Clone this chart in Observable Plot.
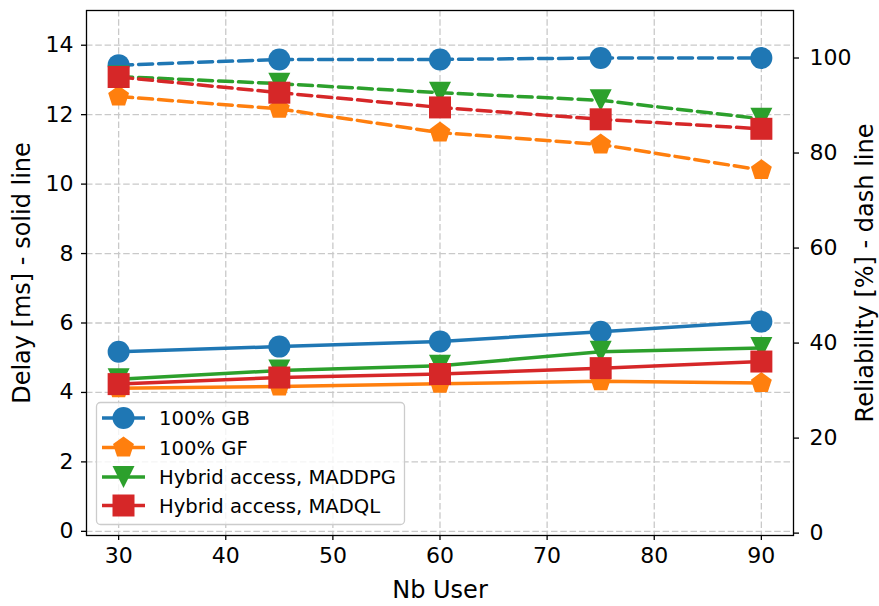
<!DOCTYPE html>
<html><head><meta charset="utf-8">
<script src="https://cdn.jsdelivr.net/npm/d3@7"></script>
<script src="https://cdn.jsdelivr.net/npm/@observablehq/plot@0.6"></script>
<style>
body{margin:0;background:#fff;}
#wrap{position:relative;width:879px;height:606px;background:#fff;}
#wrap > svg, #wrap > figure{position:absolute;left:0;top:0;margin:0;}
</style></head><body><div id="wrap"></div>
<script>
// ---- data ----
const users = [30, 45, 60, 75, 90];
const seriesNames = ["100% GB", "100% GF", "Hybrid access, MADDPG", "Hybrid access, MADQL"];
const delayGB = [5.17, 5.32, 5.47, 5.75, 6.04];
const delayGF = [4.12, 4.17, 4.25, 4.32, 4.27];
const delayMADDPG = [4.38, 4.63, 4.77, 5.17, 5.28];
const delayMADQL = [4.24, 4.43, 4.53, 4.70, 4.89];
const relGB = [98.5, 99.7, 99.7, 100, 100];
const relGF = [91.9, 89.3, 84.3, 81.8, 76.4];
const relMADDPG = [96.1, 94.6, 92.7, 91.1, 87.2];
const relMADQL = [96.0, 92.7, 89.6, 87.1, 85.1];
const xTicks = [30, 40, 50, 60, 70, 80, 90];
const delayTicks = [0, 2, 4, 6, 8, 10, 12, 14];
const relTicks = [0, 20, 40, 60, 80, 100];

const delays = [delayGB, delayGF, delayMADDPG, delayMADQL];
const rels = [relGB, relGF, relMADDPG, relMADQL];
const colors = ["#1f77b4", "#ff7f0e", "#2ca02c", "#d62728"];

// ---- marker shapes ----
const rad = s => Math.sqrt(s / Math.PI);
const symCircle = {draw(c, s){const r = rad(s); c.moveTo(r, 0); c.arc(0, 0, r, 0, 2 * Math.PI); c.closePath();}};
const symPent = {draw(c, s){const r = rad(s); for (let k = 0; k < 5; k++){const a = (-90 + 72 * k) * Math.PI / 180; const x = r * Math.cos(a), y = r * Math.sin(a); k ? c.lineTo(x, y) : c.moveTo(x, y);} c.closePath();}};
const symTriDown = {draw(c, s){const r = rad(s); c.moveTo(-r, -r); c.lineTo(r, -r); c.lineTo(0, r); c.closePath();}};
const symSquare = {draw(c, s){const r = rad(s); c.moveTo(-r, -r); c.lineTo(r, -r); c.lineTo(r, r); c.lineTo(-r, r); c.closePath();}};
const symbols = [symCircle, symPent, symTriDown, symSquare];
const R = 11;

const W = 879, H = 606, ML = 86, MR = 86, MT = 10, MB = 71;
const FONT = "DejaVu Sans";
const LABEL_FS = 24;
const gridStyle = {stroke: "#c9c9c9", strokeWidth: 1.3, strokeDasharray: "6.5,2.8", strokeOpacity: 1};

function seriesMarks(values, dashed){
  const m = [];
  values.forEach((vals, k) => {
    const d = users.map((u, i) => ({x: u, y: vals[i]}));
    m.push(Plot.line(d, {x: "x", y: "y", stroke: colors[k], strokeWidth: 3.5, strokeDasharray: dashed ? "14,6" : null}));
    m.push(Plot.dot(d, {x: "x", y: "y", fill: colors[k], stroke: "none", r: R, symbol: symbols[k]}));
  });
  return m;
}

const chartA = Plot.plot({
  width: W, height: H, marginLeft: ML, marginRight: MR, marginTop: MT, marginBottom: MB,
  style: {fontFamily: FONT, fontSize: "22px", background: "transparent", color: "#000", overflow: "visible"},
  x: {domain: [27, 93], axis: null},
  y: {domain: [-0.12, 15], axis: null},
  marks: [
    Plot.gridX(xTicks, gridStyle),
    Plot.gridY(delayTicks, gridStyle),
    ...seriesMarks(delays, false),
    Plot.frame({stroke: "#000", strokeWidth: 1.3}),
    Plot.axisX(xTicks, {tickSize: 5, tickPadding: 7, label: null, fontSize: 22, strokeWidth: 1.3}),
    Plot.axisY(delayTicks, {tickSize: 5, tickPadding: 8, label: null, fontSize: 22, strokeWidth: 1.3}),
    Plot.text(["Nb User"], {frameAnchor: "bottom", dy: 55, text: d => d, fontSize: LABEL_FS, fill: "#000", textAnchor: "middle", lineAnchor: "middle"}),
    Plot.text(["Delay [ms] - solid line"], {frameAnchor: "left", dx: -64, rotate: -90, text: d => d, fontSize: LABEL_FS, fill: "#000", textAnchor: "middle", lineAnchor: "middle"})
  ]
});

const chartB = Plot.plot({
  width: W, height: H, marginLeft: ML, marginRight: MR, marginTop: MT, marginBottom: MB,
  style: {fontFamily: FONT, fontSize: "22px", background: "transparent", color: "#000", overflow: "visible"},
  x: {domain: [27, 93], axis: null},
  y: {domain: [-0.5, 110], axis: null},
  marks: [
    ...seriesMarks(rels, true),
    Plot.axisY(relTicks, {anchor: "right", tickSize: 5, tickPadding: 11, label: null, fontSize: 22, strokeWidth: 1.3}),
    Plot.text(["Reliability [%] - dash line"], {frameAnchor: "right", dx: 72, rotate: -90, text: d => d, fontSize: LABEL_FS, fill: "#000", textAnchor: "middle", lineAnchor: "middle"})
  ]
});

const wrap = document.getElementById("wrap");
wrap.appendChild(chartA);
wrap.appendChild(chartB);

// ---- legend ----
const leg = d3.create("svg").attr("width", W).attr("height", H)
  .style("position", "absolute").style("left", "0px").style("top", "0px").style("font-family", FONT);
leg.append("rect").attr("x", 96.5).attr("y", 402.5).attr("width", 308).attr("height", 122).attr("rx", 4)
  .attr("fill", "#fff").attr("fill-opacity", 0.8).attr("stroke", "#cccccc").attr("stroke-width", 1.3);
const rowY = [418, 447.5, 477, 505.5];
seriesNames.forEach((name, k) => {
  const y = rowY[k];
  leg.append("line").attr("x1", 102).attr("x2", 145).attr("y1", y).attr("y2", y).attr("stroke", colors[k]).attr("stroke-width", 3.5);
  leg.append("path").attr("transform", `translate(123.5,${y})`).attr("d", d3.symbol().type(symbols[k]).size(R * R * Math.PI)()).attr("fill", colors[k]);
  leg.append("text").attr("x", 159).attr("y", y).attr("dy", "0.36em").attr("font-size", 19.6).attr("fill", "#000").text(name);
});
wrap.appendChild(leg.node());
</script>
</body></html>
